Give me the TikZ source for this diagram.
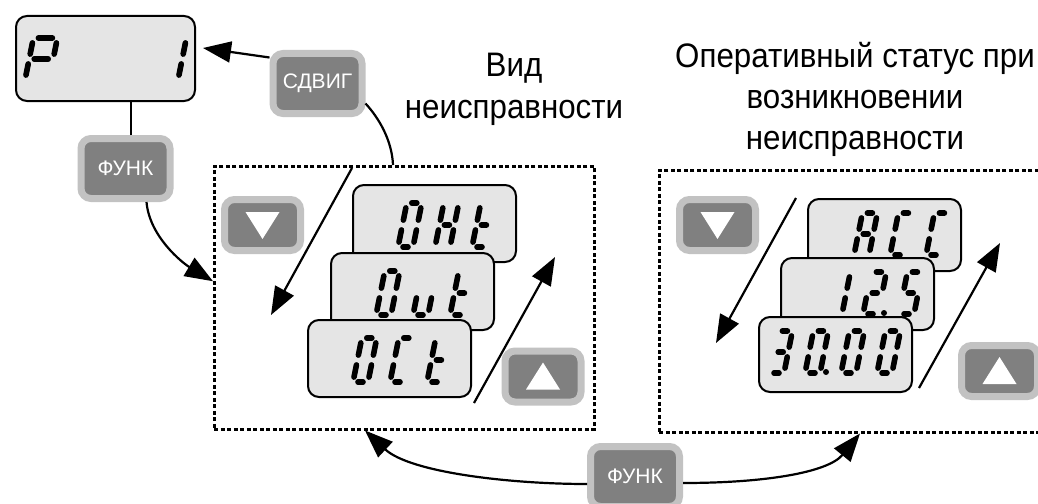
\documentclass[tikz,border=0pt]{standalone}
\usepackage{fontspec}
\setmainfont{Liberation Sans}
\newfontfamily\titlefont[FakeStretch=0.92]{Liberation Sans}
\usetikzlibrary{arrows.meta, positioning, calc}

\definecolor{keyrim}{gray}{0.76}
\definecolor{keyface}{gray}{0.5}
\definecolor{lcdgray}{gray}{0.9}

% segment lists of a slanted seven-segment character (corner pairs)
\newcommand{\sgZero}{tl/tr,tr/mr,mr/br,bl/br,ml/bl,tl/ml}
\newcommand{\sgOne}{tr/mr,mr/br}
\newcommand{\sgTwo}{tl/tr,tr/mr,ml/mr,ml/bl,bl/br}
\newcommand{\sgThree}{tl/tr,tr/mr,ml/mr,mr/br,bl/br}
\newcommand{\sgFive}{tl/tr,tl/ml,ml/mr,mr/br,bl/br}
\newcommand{\sgA}{tl/tr,tr/mr,mr/br,ml/mr,tl/ml,ml/bl}
\newcommand{\sgC}{tl/tr,tl/ml,ml/bl,bl/br}
\newcommand{\sgH}{tr/mr,mr/br,ml/mr,tl/ml,ml/bl}
\newcommand{\sgP}{tl/tr,tr/mr,ml/mr,tl/ml,ml/bl}
\newcommand{\sgT}{tl/ml,ml/bl,ml/mr,bl/br}
\newcommand{\sgU}{mr/br,bl/br,ml/bl}

% #1 bottom left corner, #2 width, #3 height, #4 segment list
\newcommand{\lcdchar}[4]{%
  \begin{scope}[shift={#1}]
    \coordinate (bl) at (0,0);
    \coordinate (br) at (#2,0);
    \coordinate (ml) at (0.1*#3,-0.5*#3);
    \coordinate (mr) at (#2+0.1*#3,-0.5*#3);
    \coordinate (tl) at (0.2*#3,-#3);
    \coordinate (tr) at (#2+0.2*#3,-#3);
    \foreach \p/\q in #4 {
      \draw[line width=5.6pt, line cap=round] ($(\p)!5pt!(\q)$) -- ($(\q)!5pt!(\p)$);
    }
  \end{scope}}
\newcommand{\lcddot}{\fill ($(br)+(6,-1)$) circle[radius=3pt];}

\begin{document}
\begin{tikzpicture}[
    x=1pt, y=-1pt,
    >={Triangle[length=28pt,width=21pt]},
    lcd/.style={draw, line width=2pt, fill=lcdgray, rounded corners=11pt, inner sep=0pt, anchor=north west},
    bigkey/.style={draw=keyrim, line width=7pt, fill=keyface, rounded corners=10pt, text=white,
        font=\fontsize{21pt}{24pt}\selectfont, inner sep=0pt, minimum width=89pt, minimum height=60pt},
    arrowkey/.style={bigkey, minimum width=76pt, minimum height=51pt},
    framebox/.style={draw, line width=2.5pt, dash pattern=on 4pt off 2.5pt, inner sep=0pt, anchor=north west},
    title/.style={font=\titlefont\fontsize{34pt}{41pt}\selectfont, inner sep=0pt, anchor=base},
    wire/.style={line width=2.2pt}
]
    \useasboundingbox (0,0) rectangle (1038,503);
    \clip (0,0) rectangle (1038,503);

    % --- Headings ---
    \node[title] (vid) at (514,77) {Вид};
    \node[title] (vidB) at ($(vid.base)+(0,41)$) {неисправности};
    \node[title] (stat) at (855,67) {Оперативный статус при};
    \node[title] (statB) at ($(stat.base)+(0,41)$) {возникновении};
    \node[title] (statC) at ($(statB.base)+(0,41)$) {неисправности};

    % --- Parameter display and keys ---
    \node[lcd, minimum width=179pt, minimum height=85pt] (pdisp) at (15,15) {};
    \lcdchar{($(pdisp.north west)+(10,65)$)}{24}{42}{\sgP}
    \lcdchar{($(pdisp.north west)+(139,65)$)}{24}{42}{\sgOne}

    \node[bigkey] (sdvig) at (317.5,83.5) {СДВИГ};
    \node[bigkey] (funkA) at (125.5,168.5) {ФУНК};
    \node[bigkey] (funkB) at (635,476.5) {ФУНК};

    % --- Fault type frame ---
    \node[framebox, minimum width=380pt, minimum height=263pt] (faultbox) at (213,165) {};
    \node[arrowkey] (dnA) at (262.5,225) {};
    \node[arrowkey] (upA) at (543,376.5) {};

    \node[lcd, minimum width=163pt, minimum height=77pt] (ohtdisp) at (352,184) {};
    \lcdchar{($(ohtdisp.north west)+(46,63)$)}{15}{44}{\sgZero}
    \lcdchar{($(ohtdisp.north west)+(83,63)$)}{15}{44}{\sgH}
    \lcdchar{($(ohtdisp.north west)+(120,63)$)}{15}{44}{\sgT}
    \node[lcd, minimum width=163pt, minimum height=77pt] (outdisp) at ($(ohtdisp.north west)+(-22,68)$) {};
    \lcdchar{($(outdisp.north west)+(46,63)$)}{15}{44}{\sgZero}
    \lcdchar{($(outdisp.north west)+(83,63)$)}{15}{44}{\sgU}
    \lcdchar{($(outdisp.north west)+(120,63)$)}{15}{44}{\sgT}
    \node[lcd, minimum width=163pt, minimum height=77pt] (ocdisp) at ($(outdisp.north west)+(-23,67)$) {};
    \lcdchar{($(ocdisp.north west)+(46,63)$)}{15}{44}{\sgZero}
    \lcdchar{($(ocdisp.north west)+(83,63)$)}{15}{44}{\sgC}
    \lcdchar{($(ocdisp.north west)+(120,63)$)}{15}{44}{\sgT}

    % --- Operating status frame ---
    \node[framebox, minimum width=400pt, minimum height=262pt] (statbox) at (658,169) {};
    \node[arrowkey] (dnB) at (717.5,225) {};
    \node[arrowkey] (upB) at (999.5,371) {};

    \node[lcd, minimum width=153pt, minimum height=72pt] (accdisp) at (807,198) {};
    \lcdchar{($(accdisp.north west)+(47,57)$)}{15}{42}{\sgA}
    \lcdchar{($(accdisp.north west)+(83,57)$)}{15}{42}{\sgC}
    \lcdchar{($(accdisp.north west)+(119,57)$)}{15}{42}{\sgC}
    \node[lcd, minimum width=153pt, minimum height=72pt] (freqdisp) at ($(accdisp.north west)+(-27,59)$) {};
    \lcdchar{($(freqdisp.north west)+(47,57)$)}{15}{42}{\sgOne}
    \lcdchar{($(freqdisp.north west)+(83,57)$)}{15}{42}{\sgTwo}
    \lcddot
    \lcdchar{($(freqdisp.north west)+(119,57)$)}{15}{42}{\sgFive}
    \node[lcd, minimum width=153pt, minimum height=75pt] (voltdisp) at ($(freqdisp.north west)+(-22,59)$) {};
    \lcdchar{($(voltdisp.north west)+(11,57)$)}{15}{42}{\sgThree}
    \lcdchar{($(voltdisp.north west)+(47,57)$)}{15}{42}{\sgZero}
    \lcddot
    \lcdchar{($(voltdisp.north west)+(83,57)$)}{15}{42}{\sgZero}
    \lcdchar{($(voltdisp.north west)+(119,57)$)}{15}{42}{\sgZero}

    % --- Key symbols ---
    \fill[white] ($(dnA.center)+(-17,-13)$) -- ($(dnA.center)+(17,-13)$) -- ($(dnA.center)+(0,14)$) -- cycle;
    \fill[white] ($(dnB.center)+(-17,-13)$) -- ($(dnB.center)+(17,-13)$) -- ($(dnB.center)+(0,14)$) -- cycle;
    \fill[white] ($(upA.center)+(-17,13)$) -- ($(upA.center)+(17,13)$) -- ($(upA.center)+(0,-14)$) -- cycle;
    \fill[white] ($(upB.center)+(-17,13)$) -- ($(upB.center)+(17,13)$) -- ($(upB.center)+(0,-14)$) -- cycle;

    % --- Scroll arrows inside the frames ---
    \coordinate (dnAfrom) at (352,168);
    \coordinate (dnAto) at (271,315);
    \coordinate (upAfrom) at (474,403);
    \coordinate (upAto) at (555,257);
    \coordinate (dnBfrom) at (796,198);
    \coordinate (dnBto) at (716,343);
    \coordinate (upBfrom) at (919,388);
    \coordinate (upBto) at (1000,243);
    \draw[wire, ->] (dnAfrom) -- (dnAto);
    \draw[wire, ->] (upAfrom) -- (upAto);
    \draw[wire, ->] (dnBfrom) -- (dnBto);
    \draw[wire, ->] (upBfrom) -- (upBto);

    % --- Key flows ---
    \coordinate (funkAtop) at ([xshift=5.5pt]funkA.north);
    \draw[wire] (funkAtop) -- (funkAtop |- pdisp.south);
    \draw[wire, ->] ([xshift=21pt]funkA.south) .. controls ($([xshift=21pt]funkA.south)+(3,35)$)
        and ($([yshift=16.5pt]faultbox.west)+(-30,-18)$) .. ([yshift=16.5pt]faultbox.west);
    \draw[wire] ([yshift=-20pt]sdvig.east) .. controls ($([yshift=-20pt]sdvig.east)+(13,14)$)
        and ($(faultbox.north west)+(179,-25)$) .. ($(faultbox.north west)+(180,0)$);
    \draw[wire, ->] ([yshift=26pt]sdvig.west) -- ([xshift=7pt,yshift=10.5pt]pdisp.east);
    \draw[wire, ->] ([yshift=-7.5pt]funkB.west) .. controls ($([yshift=-7.5pt]funkB.west)+(-77,0)$)
        and ($(faultbox.south west)+(197,42)$) .. ($(faultbox.south west)+(152,0)$);
    \draw[wire, ->] ([yshift=-6.5pt]funkB.east) .. controls ($([yshift=-6.5pt]funkB.east)+(82,0)$)
        and ($(statbox.south west)+(170,39)$) .. ($(statbox.south west)+(202,0)$);

\end{tikzpicture}
\end{document}
